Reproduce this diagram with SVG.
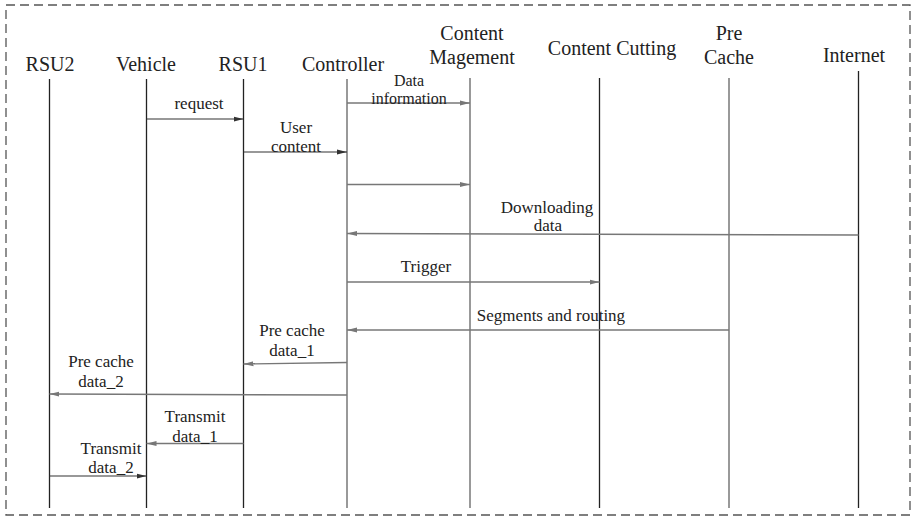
<svg xmlns="http://www.w3.org/2000/svg" width="912" height="517" viewBox="0 0 912 517">
<defs>
<marker id="ah" viewBox="0 0 10 6" refX="10" refY="3" markerWidth="10" markerHeight="6" markerUnits="userSpaceOnUse" orient="auto">
<path d="M0,0.5 L10,3 L0,5.5 Z" fill="#333"/>
</marker>
<marker id="ahg" viewBox="0 0 10 6" refX="10" refY="3" markerWidth="10" markerHeight="6" markerUnits="userSpaceOnUse" orient="auto">
<path d="M0,0.5 L10,3 L0,5.5 Z" fill="#777"/>
</marker>
</defs>
<style>
.hd{font-family:'Liberation Serif','Times New Roman',serif;font-size:20px;fill:#222;text-anchor:middle}
.lb{font-family:'Liberation Serif','Times New Roman',serif;font-size:17px;fill:#222;text-anchor:middle}
.sm{font-size:16px}
.ll{stroke:#222;stroke-width:1.3;fill:none}
.llg{stroke:#777;stroke-width:1.5;fill:none}
.m{stroke:#333;stroke-width:1.2;fill:none;marker-end:url(#ah)}
.mg{stroke:#777;stroke-width:1.4;fill:none;marker-end:url(#ahg)}
</style>
<rect x="0" y="0" width="912" height="517" fill="#fff"/>
<rect x="6" y="5" width="904" height="510" fill="none" stroke="#555" stroke-width="1.3" stroke-dasharray="9,5"/>

<g id="rsu2"><text class="hd" x="50" y="71">RSU2</text><line class="ll" x1="49.5" y1="79" x2="49.5" y2="508"/></g>
<g id="vehicle"><text class="hd" x="146" y="71">Vehicle</text><line class="ll" x1="146.5" y1="79" x2="146.5" y2="508"/></g>
<g id="rsu1"><text class="hd" x="243" y="71">RSU1</text><line class="ll" x1="243.5" y1="79" x2="243.5" y2="508"/></g>
<g id="controller"><text class="hd" x="343" y="71">Controller</text><line class="llg" x1="347" y1="79" x2="347" y2="508"/></g>
<g id="contentMag"><text class="hd" x="472" y="40">Content</text><text class="hd" x="472" y="64">Magement</text><line class="llg" x1="470" y1="78" x2="470" y2="508"/></g>
<g id="contentCut"><text class="hd" x="612" y="55">Content Cutting</text><line class="ll" x1="599.5" y1="78" x2="599.5" y2="508"/></g>
<g id="preCache"><text class="hd" x="729" y="40">Pre</text><text class="hd" x="729" y="64">Cache</text><line class="llg" x1="729" y1="78" x2="729" y2="508"/></g>
<g id="internet"><text class="hd" x="854" y="62">Internet</text><line class="ll" x1="858.5" y1="71" x2="858.5" y2="508"/></g>

<g id="connectors">
<line class="mg" x1="347" y1="103" x2="470" y2="103"/>
<line class="m" x1="146.5" y1="119" x2="243.5" y2="119"/>
<line class="m" x1="243.5" y1="152" x2="347" y2="152"/>
<line class="mg" x1="347" y1="184.5" x2="470" y2="184.5"/>
<line class="mg" x1="858.5" y1="235" x2="347" y2="233.5"/>
<line class="mg" x1="347" y1="282" x2="599.5" y2="282"/>
<line class="mg" x1="729" y1="330" x2="347" y2="330"/>
<line class="mg" x1="347" y1="362.5" x2="243.5" y2="364"/>
<line class="mg" x1="347" y1="395" x2="49.5" y2="394"/>
<line class="mg" x1="243.5" y1="443.5" x2="146.5" y2="443.5"/>
<line class="m" x1="49.5" y1="476" x2="146.5" y2="476"/>
</g>

<g id="labels">
<text class="lb sm" x="409" y="86">Data</text>
<text class="lb sm" x="409" y="104">information</text>
<text class="lb" x="199" y="109">request</text>
<text class="lb" x="296" y="133">User</text>
<text class="lb" x="296" y="152">content</text>
<text class="lb" x="547" y="213">Downloading</text>
<text class="lb" x="548" y="231">data</text>
<text class="lb" x="426" y="272">Trigger</text>
<text class="lb" x="551" y="321">Segments and routing</text>
<text class="lb" x="292" y="336">Pre cache</text>
<text class="lb" x="292" y="356">data_1</text>
<text class="lb" x="101" y="367">Pre cache</text>
<text class="lb" x="101" y="387">data_2</text>
<text class="lb" x="195" y="422">Transmit</text>
<text class="lb" x="195" y="442">data_1</text>
<text class="lb" x="111" y="454">Transmit</text>
<text class="lb" x="111" y="473">data_2</text>
</g>
</svg>
